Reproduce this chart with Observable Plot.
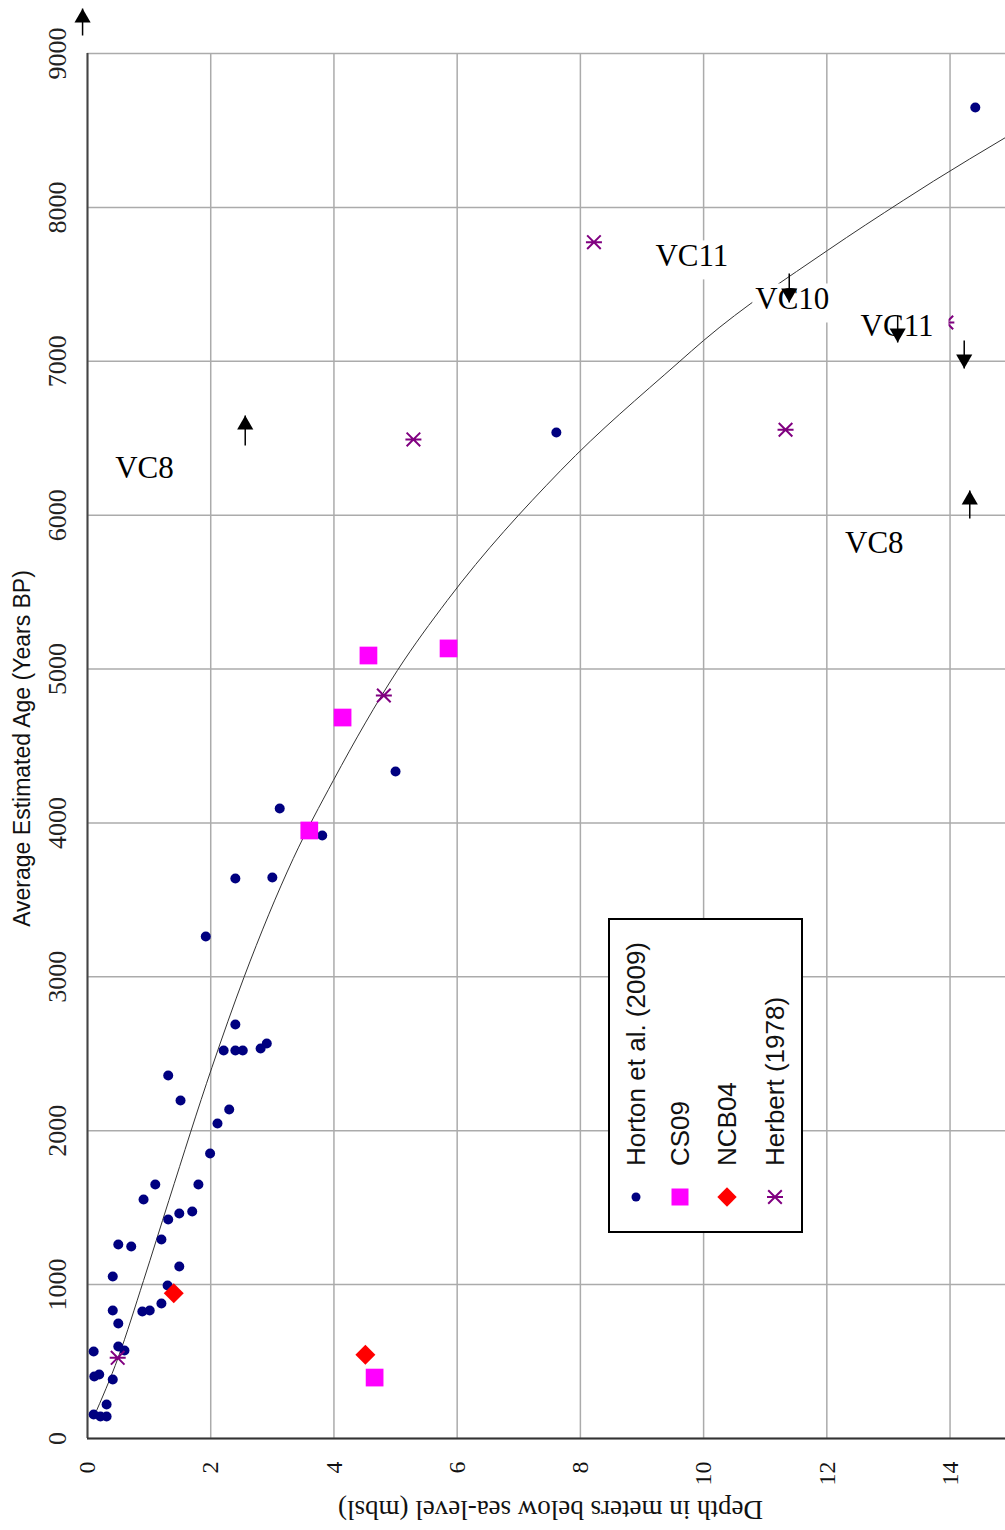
<!DOCTYPE html>
<html>
<head>
<meta charset="utf-8">
<script src="https://cdn.jsdelivr.net/npm/d3@7"></script>
<script src="https://cdn.jsdelivr.net/npm/@observablehq/plot@0.6"></script>
<style>
  html, body { margin: 0; padding: 0; background: #fff; }
  #chart svg { display: block; }
</style>
</head>
<body>
<div id="chart"></div>
<script>
// ---------------- DATA ----------------
// Horton et al. (2009): depth (m below sea level), average estimated age (years BP)
const hortonDepth = [14.41, 7.61, 5.00, 3.12, 3.81, 2.40, 3.00, 1.92, 2.40, 2.21, 2.40, 2.52, 2.81, 2.91,
  1.31, 1.51, 2.30, 2.11, 1.99, 1.80, 1.10, 0.91, 1.70, 1.49, 1.31, 1.20, 0.50, 0.71, 1.49, 0.41,
  1.30, 1.20, 0.89, 1.01, 0.41, 0.50, 0.10, 0.50, 0.60, 0.11, 0.19, 0.41, 0.31, 0.10, 0.21, 0.31];
const hortonAge = [8649, 6537, 4334, 4094, 3918, 3639, 3645, 3262, 2690, 2521, 2521, 2521, 2534, 2567,
  2359, 2196, 2138, 2047, 1852, 1651, 1651, 1553, 1475, 1462, 1423, 1293, 1261, 1248, 1118, 1053,
  994, 877, 825, 832, 832, 747, 565, 598, 572, 403, 416, 383, 221, 156, 143, 143];

// CS09
const cs09Depth = [4.56, 5.86, 4.14, 3.60, 4.66];
const cs09Age = [5088, 5134, 4685, 3951, 396];

// NCB04
const ncb04Depth = [1.40, 4.51];
const ncb04Age = [944, 544];

// Herbert (1978)
const herbertDepth = [8.22, 5.29, 11.33, 4.81, 0.49, 13.94];
const herbertAge = [7774, 6492, 6555, 4828, 524, 7252];

// Trend curve, traced point by point
const trendDepth = [0.10, 0.50, 0.91, 1.32, 2.02, 2.54, 3.34, 3.99, 5.03, 5.84, 7.68, 9.60, 10.00, 12.01, 13.24, 13.73, 14.90];
const trendAge = [138, 528, 1027, 1546, 2412, 2997, 3769, 4276, 4991, 5446, 6290, 6995, 7135, 7720, 8045, 8170, 8454];

// Core labels
const labelText = ["VC8", "VC11", "VC10", "VC11", "VC8"];
const labelDepth = [0.925, 9.81, 11.44, 13.14, 12.77];
const labelAge = [6303, 7681, 7401, 7226, 5816];

// Arrows: depth, tip age, tail age, direction
const arrowDepth = [-0.08, 2.56, 11.39, 13.15, 14.23, 14.32];
const arrowTip = [9292, 6648, 7382, 7122, 6953, 6160];
const arrowTail = [9117, 6453, 7570, 7297, 7135, 5978];
const arrowDir = ["up", "up", "down", "down", "down", "up"];

// Axes
const xTicks = [0, 2, 4, 6, 8, 10, 12, 14];
const yTicks = [0, 1000, 2000, 3000, 4000, 5000, 6000, 7000, 8000, 9000];
const xTitle = "Depth in meters below sea-level (mbsl)";
const yTitle = "Average Estimated Age (Years BP)";
const seriesNames = ["Horton et al. (2009)", "CS09", "NCB04", "Herbert (1978)"];

// ---------------- build tables ----------------
const zip = (xs, ys) => xs.map((d, i) => ({depth: d, age: ys[i]}));
const horton = zip(hortonDepth, hortonAge);
const cs09 = zip(cs09Depth, cs09Age);
const ncb04 = zip(ncb04Depth, ncb04Age);
const herbert = zip(herbertDepth, herbertAge);
const trend = zip(trendDepth, trendAge);
const labels = labelText.map((t, i) => ({text: t, depth: labelDepth[i], age: labelAge[i]}));
const arrows = arrowDepth.map((d, i) => ({depth: d, tip: arrowTip[i], tail: arrowTail[i], dir: arrowDir[i]}));

// Asterisk drawn as an X with a horizontal bar
const asteriskSymbol = {
  draw(context, size) {
    const r = Math.sqrt(size / Math.PI);
    const a = r * 0.85;
    context.moveTo(-a, -a); context.lineTo(a, a);
    context.moveTo(-a, a); context.lineTo(a, -a);
    context.moveTo(-r, 0); context.lineTo(r, 0);
  }
};

const serif = "'Liberation Serif', 'Times New Roman', serif";
const sans = "'Liberation Sans', Arial, sans-serif";

const chart = Plot.plot({
  width: 1005,
  height: 1530,
  marginLeft: 87,
  marginRight: 0,
  marginTop: 53,
  marginBottom: 92,
  x: {domain: [0, 14.9], axis: null},
  y: {domain: [0, 9000], axis: null},
  style: {background: "#fff", overflow: "visible"},
  marks: [
    Plot.ruleX(xTicks, {x: d => d, stroke: "#ababab", strokeWidth: 1.5}),
    Plot.ruleY(yTicks, {y: d => d, stroke: "#ababab", strokeWidth: 1.5}),
    Plot.ruleX([0], {stroke: "#444", strokeWidth: 2}),
    Plot.ruleY([0], {stroke: "#333", strokeWidth: 2}),
    Plot.line(trend, {x: "depth", y: "age", curve: "monotone-x", stroke: "#333", strokeWidth: 1}),
    Plot.dot(horton, {x: "depth", y: "age", r: 5, fill: "#000080", stroke: "none"}),
    Plot.dot(cs09, {x: "depth", y: "age", symbol: "square", r: 10, fill: "#ff00ff", stroke: "none"}),
    Plot.dot(ncb04, {x: "depth", y: "age", symbol: "diamond2", r: 9, fill: "#ff0000", stroke: "none"}),
    Plot.dot(herbert, {x: "depth", y: "age", symbol: asteriskSymbol, r: 8, fill: "none", stroke: "#800080", strokeWidth: 2}),
    Plot.text(labels, {x: "depth", y: "age", text: "text", fontSize: 31, fontFamily: serif, fill: "#000",
      textAnchor: "middle", lineAnchor: "middle"}),
    Plot.link(arrows, {x1: "depth", x2: "depth", y1: "tail", y2: "tip", stroke: "#000", strokeWidth: 1.5}),
    Plot.dot(arrows.filter(d => d.dir === "up"), {x: "depth", y: "tip", symbol: "triangle", r: 6, fill: "#000", stroke: "none", dy: 9.3}),
    Plot.dot(arrows.filter(d => d.dir === "down"), {x: "depth", y: "tip", symbol: "triangle", r: 6, fill: "#000", stroke: "none", rotate: 180, dy: -9.3}),
    // tick labels
    Plot.text(xTicks, {x: d => d, frameAnchor: "bottom", text: d => String(d), rotate: -90,
      textAnchor: "end", lineAnchor: "middle", dy: 23, fontSize: 24, fontFamily: serif, fill: "#111"}),
    Plot.text(yTicks, {y: d => d, frameAnchor: "left", text: d => String(d), rotate: -90,
      textAnchor: "middle", lineAnchor: "bottom", dx: -22, fontSize: 26, fontFamily: serif, fill: "#222"}),
    // axis titles
    Plot.text([xTitle], {frameAnchor: "bottom", text: d => d, rotate: 180, dx: 4, dy: 71,
      textAnchor: "middle", lineAnchor: "middle", fontSize: 27, fontFamily: serif, fill: "#111"}),
    Plot.text([yTitle], {frameAnchor: "left", text: d => d, rotate: -90, dx: -65, dy: 2.5,
      textAnchor: "middle", lineAnchor: "middle", fontSize: 23, fontFamily: sans, fill: "#111"})
  ]
});

document.getElementById("chart").appendChild(chart);

// ---------------- white boxes behind the core labels ----------------
const svg = d3.select(chart);
svg.selectAll("text").filter(function() {
  return labelText.includes(this.textContent) && this.getAttribute("font-size") !== "24";
}).each(function() {
  const t = this;
  const bb = t.getBBox();
  const rect = document.createElementNS("http://www.w3.org/2000/svg", "rect");
  rect.setAttribute("x", bb.x - 3);
  rect.setAttribute("y", bb.y + 2);
  rect.setAttribute("width", bb.width + 18);
  rect.setAttribute("height", bb.height + 4);
  rect.setAttribute("fill", "#fff");
  const tr = t.getAttribute("transform");
  if (tr) rect.setAttribute("transform", tr);
  t.parentNode.insertBefore(rect, t);
});

// ---------------- legend (inside plot, rotated like the reference) ----------------
const lg = svg.append("g");
lg.append("rect").attr("x", 609).attr("y", 919).attr("width", 193).attr("height", 313)
  .attr("fill", "#fff").attr("stroke", "#000").attr("stroke-width", 2);
const legendX = [636, 680, 727, 775];
const legendSym = [
  {type: d3.symbolCircle, size: Math.PI * 4.5 * 4.5, fill: "#000080", stroke: "none"},
  {type: d3.symbolSquare, size: 17 * 17, fill: "#ff00ff", stroke: "none"},
  {type: d3.symbolDiamond2, size: 240, fill: "#ff0000", stroke: "none"},
  {type: asteriskSymbol, size: Math.PI * 64, fill: "none", stroke: "#800080"}
];
seriesNames.forEach((name, i) => {
  const s = legendSym[i];
  lg.append("path")
    .attr("transform", `translate(${legendX[i]},1197)`)
    .attr("d", d3.symbol(s.type, s.size)())
    .attr("fill", s.fill).attr("stroke", s.stroke).attr("stroke-width", 2);
  lg.append("text")
    .attr("transform", `translate(${legendX[i]},1166) rotate(-90)`)
    .attr("text-anchor", "start").attr("dy", "0.36em")
    .attr("font-family", sans).attr("font-size", 26).attr("fill", "#111")
    .text(name);
});
</script>
</body>
</html>
